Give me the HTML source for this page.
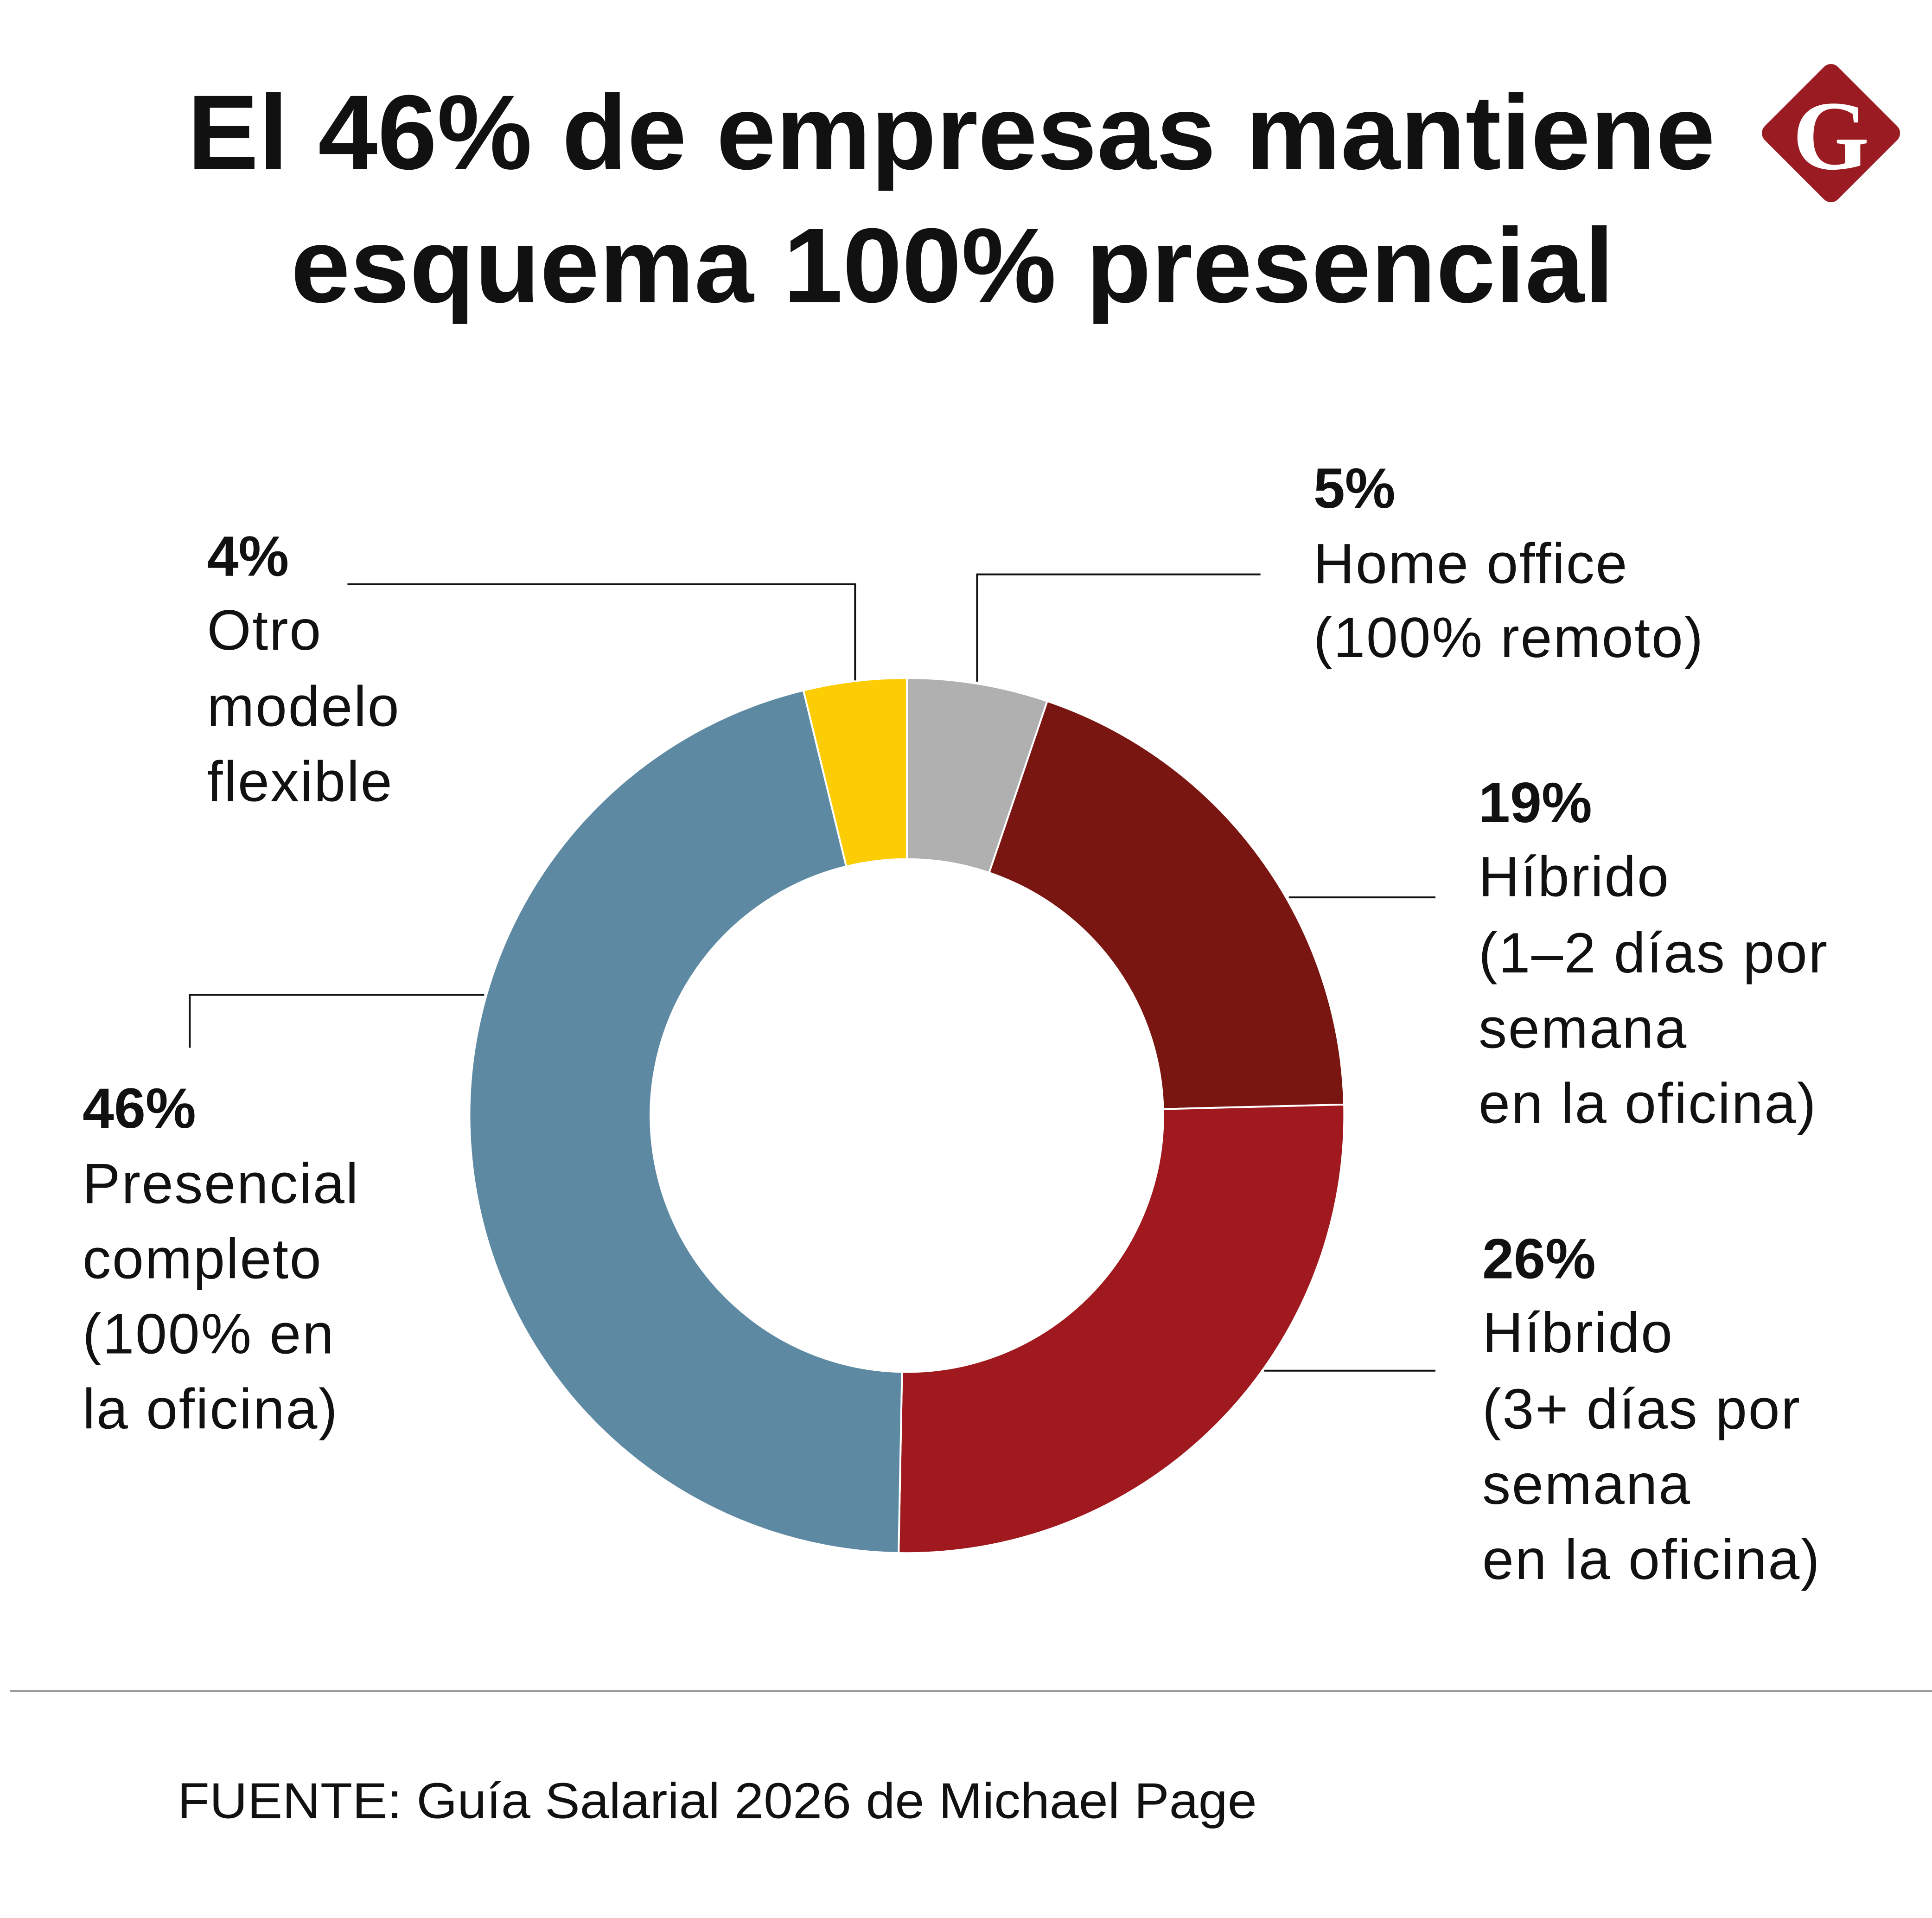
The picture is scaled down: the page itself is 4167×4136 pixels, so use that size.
<!DOCTYPE html>
<html><head><meta charset="utf-8">
<style>
html,body{margin:0;padding:0;background:#fff;}
svg{display:block;}
text{font-family:"Liberation Sans",sans-serif;fill:#111;}
.t{font-weight:bold;font-size:86px;}
.b{font-weight:bold;font-size:46px;}
.l{font-size:46px;letter-spacing:1px;}
</style></head>
<body>
<svg id="chart" width="4167" height="4136" viewBox="0 0 1568 1556" preserveAspectRatio="none" xmlns="http://www.w3.org/2000/svg">
<rect width="1568" height="1556" fill="#fff"/>
<text class="t" x="152" y="137" textLength="1240" lengthAdjust="spacingAndGlyphs">El 46% de empresas mantiene</text>
<text class="t" x="236" y="245" textLength="1074" lengthAdjust="spacingAndGlyphs">esquema 100% presencial</text>
<g>
<rect x="1444" y="66" width="84" height="84" rx="8" fill="#9b1b22" transform="rotate(45 1486 108)"/>
<text x="1486" y="137" text-anchor="middle" style="font-family:'Liberation Serif',serif;font-size:80px;font-weight:bold;fill:#fff">G</text>
</g>
<g id="slices"></g>
<g fill="none" stroke="#111" stroke-width="1.5">
<polyline points="282,474 694,474 694,552"/>
<polyline points="1023,466 793,466 793,553"/>
<polyline points="1165,728 1046,728"/>
<polyline points="1165,1112 1026,1112"/>
<polyline points="393,807 154,807 154,850"/>
</g>
<g>
<text class="b" x="1066" y="412">5%</text>
<text class="l" x="1066" y="473">Home office</text>
<text class="l" x="1066" y="533">(100% remoto)</text>
</g>
<g>
<text class="b" x="168" y="467">4%</text>
<text class="l" x="168" y="527">Otro</text>
<text class="l" x="168" y="589">modelo</text>
<text class="l" x="168" y="650">flexible</text>
</g>
<g>
<text class="b" x="1200" y="667">19%</text>
<text class="l" x="1200" y="727">Híbrido</text>
<text class="l" x="1200" y="789">(1–2 días por</text>
<text class="l" x="1200" y="850">semana</text>
<text class="l" x="1200" y="911">en la oficina)</text>
</g>
<g>
<text class="b" x="67" y="915">46%</text>
<text class="l" x="67" y="976">Presencial</text>
<text class="l" x="67" y="1037">completo</text>
<text class="l" x="67" y="1098">(100% en</text>
<text class="l" x="67" y="1159">la oficina)</text>
</g>
<g>
<text class="b" x="1203" y="1037">26%</text>
<text class="l" x="1203" y="1097">Híbrido</text>
<text class="l" x="1203" y="1159">(3+ días por</text>
<text class="l" x="1203" y="1220">semana</text>
<text class="l" x="1203" y="1281">en la oficina)</text>
</g>
<line x1="8" y1="1372" x2="1568" y2="1372" stroke="#999" stroke-width="1.5"/>
<text class="l" x="144" y="1475" style="font-size:41px;letter-spacing:0" textLength="876" lengthAdjust="spacingAndGlyphs">FUENTE: Guía Salarial 2026 de Michael Page</text>
</svg>
<script>
const categories = ["Home office", "Híbrido 1-2", "Híbrido 3+", "Presencial", "Otro"];
const values = [5.2, 19.4, 25.7, 45.9, 3.8];
const colors = ["#b1b0b0", "#7a1611", "#a0191e", "#5e89a3", "#fccc04"];
const cx = 736, cy = 905, R = 355, r = 208;
const total = values.reduce((a, b) => a + b, 0);
function angle(v) { return v / total * 2 * Math.PI; }
function pt(a, rad) { return [cx + rad * Math.sin(a), cy - rad * Math.cos(a)]; }
const g = document.getElementById('slices');
let acc = 0;
values.forEach((v, i) => {
  const a0 = angle(acc), a1 = angle(acc + v);
  acc += v;
  const large = (a1 - a0) > Math.PI ? 1 : 0;
  const p0 = pt(a0, R), p1 = pt(a1, R), q1 = pt(a1, r), q0 = pt(a0, r);
  const d = `M${p0[0]},${p0[1]} A${R},${R} 0 ${large} 1 ${p1[0]},${p1[1]} L${q1[0]},${q1[1]} A${r},${r} 0 ${large} 0 ${q0[0]},${q0[1]} Z`;
  const path = document.createElementNS('http://www.w3.org/2000/svg', 'path');
  path.setAttribute('d', d);
  path.setAttribute('fill', colors[i]);
  path.setAttribute('stroke', '#fff');
  path.setAttribute('stroke-width', '1.5');
  
  
  g.appendChild(path);
});
</script>
</body></html>
